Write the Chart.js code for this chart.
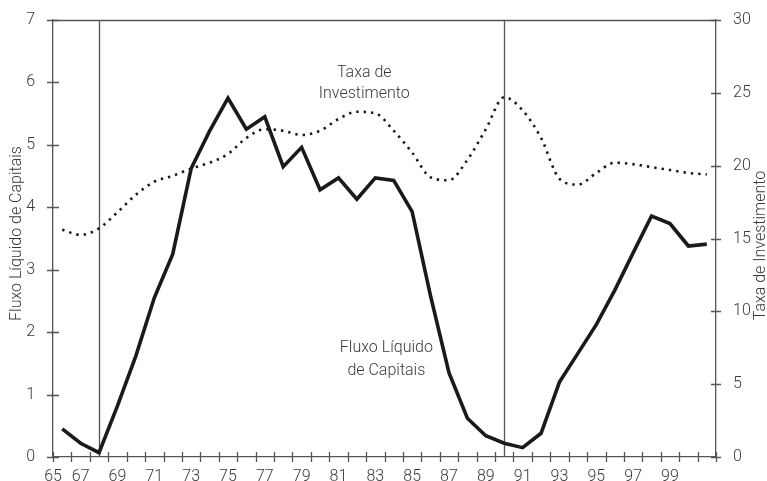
<!DOCTYPE html>
<html>
<head>
<meta charset="utf-8">
<script src="https://cdn.jsdelivr.net/npm/chart.js@4/dist/chart.umd.min.js"></script>
<style>
  body { margin: 0; background: #fff; }
  #wrap { width: 767px; height: 481px; }
</style>
</head>
<body>
<div id="wrap"><canvas id="chart" width="767" height="481"></canvas></div>
<script>
// Data
const years = [1966, 1967, 1968, 1969, 1970, 1971, 1972, 1973, 1974, 1975,
               1976, 1977, 1978, 1979, 1980, 1981, 1982, 1983, 1984, 1985,
               1986, 1987, 1988, 1989, 1990, 1991, 1992, 1993, 1994, 1995,
               1996, 1997, 1998, 1999, 2000, 2001];

// Fluxo Liquido de Capitais (left axis)
const fluxo = [0.45, 0.22, 0.07, 0.82, 1.62, 2.55, 3.25, 4.62, 5.22, 5.75,
               5.25, 5.45, 4.65, 4.96, 4.28, 4.47, 4.13, 4.47, 4.43, 3.93,
               2.58, 1.35, 0.62, 0.34, 0.22, 0.15, 0.38, 1.20, 1.66, 2.12,
               2.67, 3.27, 3.86, 3.74, 3.38, 3.41];

// Taxa de Investimento (right axis)
const taxa = [15.6, 15.25, 15.7, 16.8, 18.0, 18.9, 19.3, 19.8, 20.2, 20.8,
              21.9, 22.5, 22.4, 22.1, 22.4, 23.2, 23.7, 23.6, 22.4, 20.9,
              19.2, 19.0, 20.4, 22.5, 24.7, 23.8, 21.9, 19.1, 18.7, 19.5,
              20.2, 20.1, 19.9, 19.7, 19.5, 19.4];

const xTickLabels = ['65', '67', '69', '71', '73', '75', '77', '79', '81',
                     '83', '85', '87', '89', '91', '93', '95', '97', '99'];
const markerYears = [1968, 1990];

const FONT = 'Roboto, "Open Sans", sans-serif';
const TEXT = '#3a3a3a';
const AXIS = '#555';

/**
 * Frame, crossing tick marks and vertical marker lines
 */
const framePlugin = {
    id: 'frame',
    beforeDatasetsDraw(chart) {
        const ctx = chart.ctx;
        const area = chart.chartArea;
        const x = chart.scales.x;
        ctx.save();
        ctx.strokeStyle = AXIS;
        ctx.lineWidth = 1.3;
        markerYears.forEach(yr => {
            const px = Math.round(x.getPixelForValue(yr)) + 0.5;
            ctx.beginPath();
            ctx.moveTo(px, area.top);
            ctx.lineTo(px, area.bottom);
            ctx.stroke();
        });
        ctx.restore();
    },
    afterDraw(chart) {
        const ctx = chart.ctx;
        const area = chart.chartArea;
        const { x, y, y1 } = chart.scales;
        ctx.save();
        ctx.strokeStyle = AXIS;
        ctx.lineWidth = 1.3;

        // top border
        ctx.beginPath();
        ctx.moveTo(area.left, area.top + 0.5);
        ctx.lineTo(area.right, area.top + 0.5);
        ctx.stroke();

        // x tick marks between the years
        ctx.beginPath();
        for (let v = x.min; v <= x.max + 0.01; v += 1) {
            const px = Math.round(x.getPixelForValue(v)) + 0.5;
            ctx.moveTo(px, area.bottom - 5);
            ctx.lineTo(px, area.bottom + 5);
        }
        // left and right axis tick marks
        y.ticks.forEach(t => {
            const py = Math.round(y.getPixelForValue(t.value)) + 0.5;
            ctx.moveTo(area.left - 6, py);
            ctx.lineTo(area.left + 6, py);
        });
        y1.ticks.forEach(t => {
            const py = Math.round(y1.getPixelForValue(t.value)) + 0.5;
            ctx.moveTo(area.right - 5, py);
            ctx.lineTo(area.right + 5, py);
        });
        ctx.stroke();

        // axis titles, both reading bottom to top
        ctx.fillStyle = TEXT;
        ctx.font = '300 16px ' + FONT;
        ctx.textAlign = 'center';
        ctx.textBaseline = 'middle';
        const midY = (area.top + area.bottom) / 2;
        ctx.save();
        ctx.translate(17, midY - 5);
        ctx.rotate(-Math.PI / 2);
        ctx.fillText('Fluxo Líquido de Capitais', 0, 0);
        ctx.restore();
        ctx.save();
        ctx.translate(761, midY + 7);
        ctx.rotate(-Math.PI / 2);
        ctx.fillText('Taxa de Investimento', 0, 0);
        ctx.restore();

        // series annotations
        const tx = x.getPixelForValue(1982.4);
        ctx.fillText('Taxa de', tx, y1.getPixelForValue(26.35));
        ctx.fillText('Investimento', tx, y1.getPixelForValue(24.95));
        const fx = x.getPixelForValue(1983.6);
        ctx.fillText('Fluxo Líquido', fx, y.getPixelForValue(1.74));
        ctx.fillText('de Capitais', fx, y.getPixelForValue(1.38));
        ctx.restore();
    }
};

document.addEventListener('DOMContentLoaded', function() {
    const ctx = document.getElementById('chart').getContext('2d');

    new Chart(ctx, {
        type: 'line',
        data: {
            datasets: [{
                label: 'Fluxo Líquido de Capitais',
                data: years.map((yr, i) => ({ x: yr, y: fluxo[i] })),
                yAxisID: 'y',
                borderColor: '#1a1a1a',
                borderWidth: 3.6,
                pointRadius: 0,
                tension: 0,
                borderJoinStyle: 'miter'
            }, {
                label: 'Taxa de Investimento',
                data: years.map((yr, i) => ({ x: yr, y: taxa[i] })),
                yAxisID: 'y1',
                borderColor: '#1a1a1a',
                borderWidth: 2.6,
                borderDash: [2.4, 5],
                pointRadius: 0,
                tension: 0.4,
                cubicInterpolationMode: 'monotone'
            }]
        },
        options: {
            responsive: false,
            animation: false,
            layout: { padding: { top: 20, left: 0, right: 0, bottom: 0 } },
            plugins: {
                legend: { display: false },
                tooltip: { enabled: false }
            },
            scales: {
                x: {
                    type: 'linear',
                    min: 1965.5,
                    max: 2001.5,
                    afterBuildTicks: scale => {
                        scale.ticks = xTickLabels.map((lab, i) => ({
                            value: i === 0 ? 1965.5 : 1965 + i * 2
                        }));
                    },
                    afterFit: scale => { scale.height = 24; },
                    grid: { display: false },
                    border: { display: true, color: AXIS, width: 1.3 },
                    ticks: {
                        autoSkip: false,
                        maxRotation: 0,
                        padding: 2,
                        color: TEXT,
                        font: { family: FONT, size: 16, weight: 300 },
                        callback: (value, index) => xTickLabels[index]
                    }
                },
                y: {
                    position: 'left',
                    min: 0,
                    max: 7,
                    afterFit: scale => { scale.width = 53; },
                    grid: { display: false },
                    border: { display: true, color: AXIS, width: 1.3 },
                    ticks: {
                        stepSize: 1,
                        padding: 10,
                        color: TEXT,
                        font: { family: FONT, size: 16, weight: 300 }
                    }
                },
                y1: {
                    position: 'right',
                    min: 0,
                    max: 30,
                    afterFit: scale => { scale.width = 51; },
                    grid: { display: false },
                    border: { display: true, color: AXIS, width: 1.3 },
                    ticks: {
                        stepSize: 5,
                        padding: 9,
                        color: TEXT,
                        font: { family: FONT, size: 16, weight: 300 }
                    }
                }
            }
        },
        plugins: [framePlugin]
    });
});
</script>
</body>
</html>
